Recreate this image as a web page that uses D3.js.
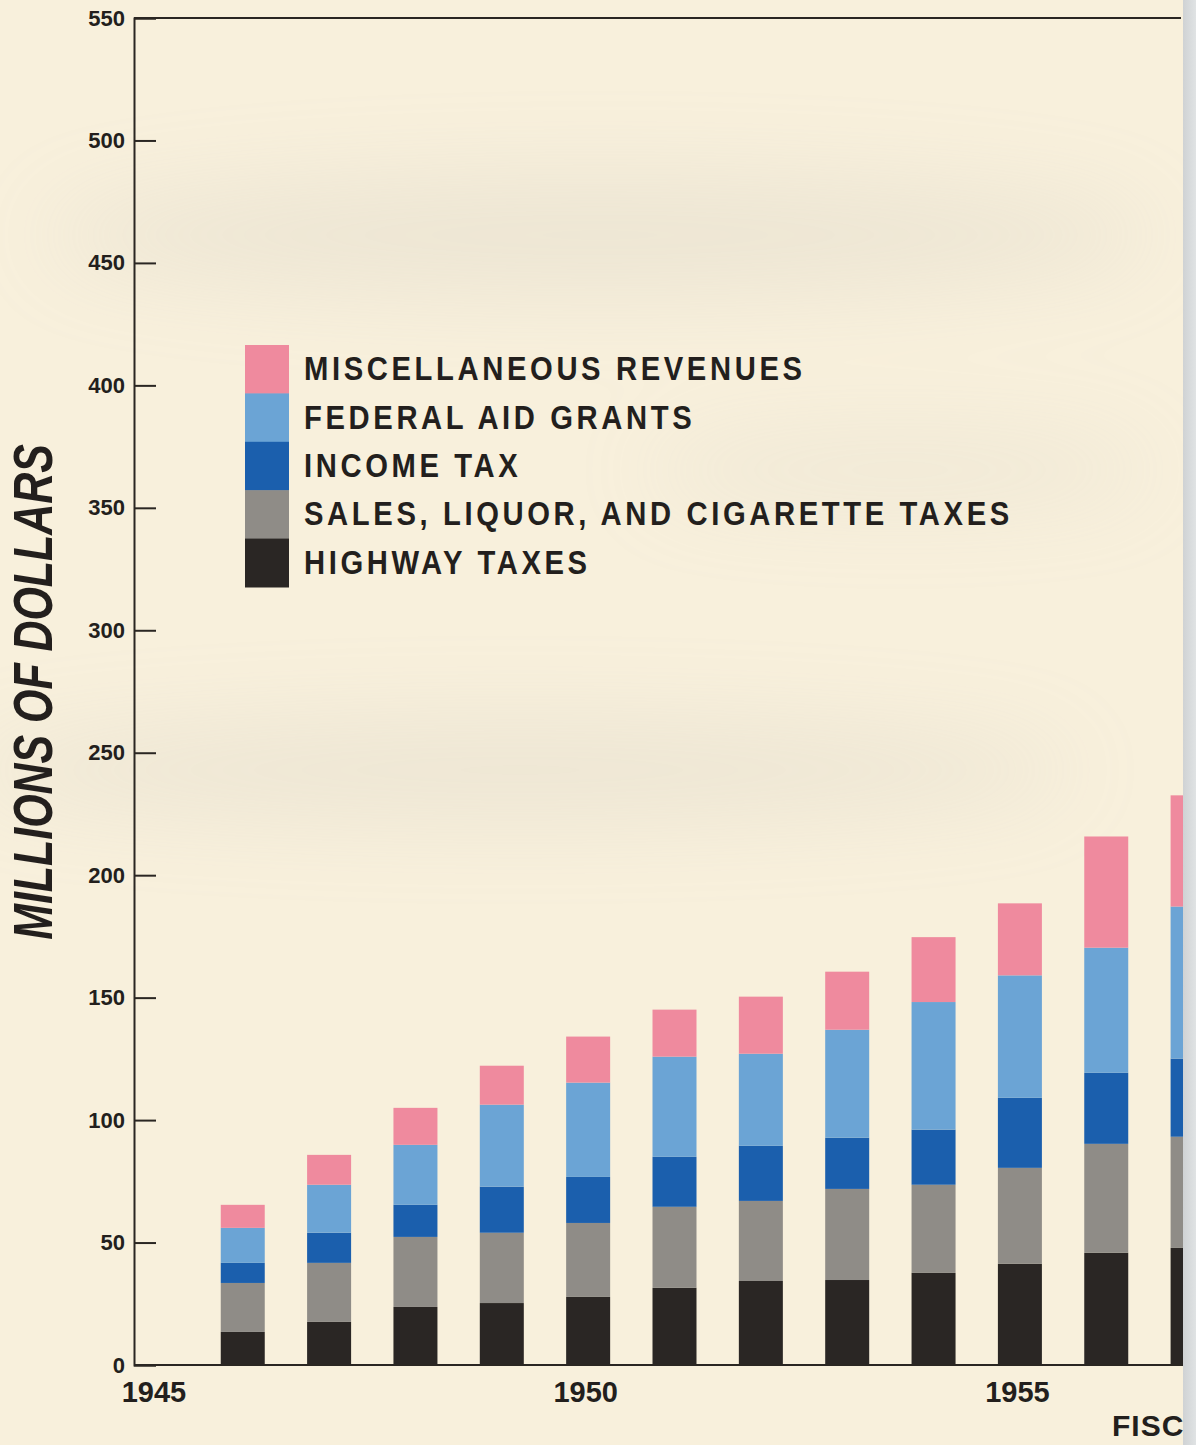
<!DOCTYPE html>
<html lang="en">
<head>
  <meta charset="UTF-8">
  <title>State Revenues by Source, Fiscal Years 1946-1957</title>
  <script src="https://d3js.org/d3.v7.min.js"></script>
  <style>
    body {
      margin: 0;
      background: #d6d9db;
    }
    svg text {
      font-family: "Liberation Sans", Arial, sans-serif;
      font-weight: bold;
      fill: #231f1d;
    }
  </style>
</head>
<body>
  <div id="chart"></div>

  <script>
    // Fiscal years and revenue by source (millions of dollars)
    const years = [1946, 1947, 1948, 1949, 1950, 1951, 1952, 1953, 1954, 1955, 1956, 1957];
    const highwayTaxes = [13.5, 17.6, 23.7, 25.3, 27.8, 31.5, 34.3, 34.7, 37.6, 41.3, 45.8, 47.8];
    const salesTaxes   = [20.0, 24.1, 28.6, 28.7, 30.2, 33.1, 32.7, 37.2, 36.0, 39.2, 44.5, 45.4];
    const incomeTax    = [8.2, 12.3, 13.1, 18.8, 18.8, 20.4, 22.5, 20.9, 22.5, 28.6, 29.0, 31.9];
    const federalAid   = [14.3, 19.6, 24.5, 33.5, 38.5, 40.9, 37.6, 44.1, 52.1, 50.0, 51.1, 62.1];
    const miscRevenues = [9.4, 12.2, 15.1, 15.9, 18.8, 19.2, 23.3, 23.7, 26.5, 29.4, 45.4, 45.4];

    const seriesKeys = ["highway", "sales", "income", "federal", "misc"];
    const seriesNames = {
      misc: "MISCELLANEOUS REVENUES",
      federal: "FEDERAL AID GRANTS",
      income: "INCOME TAX",
      sales: "SALES, LIQUOR, AND CIGARETTE TAXES",
      highway: "HIGHWAY TAXES"
    };
    const yTicks = [0, 50, 100, 150, 200, 250, 300, 350, 400, 450, 500, 550];
    const xLabels = [1945, 1950, 1955];

    const data = years.map((yr, i) => ({
      year: yr,
      highway: highwayTaxes[i],
      sales: salesTaxes[i],
      income: incomeTax[i],
      federal: federalAid[i],
      misc: miscRevenues[i]
    }));

    const W = 1196, H = 1445;
    const pageRight = 1183;   // the scanned page is cut here
    const axisX = 134;

    const svg = d3.select("#chart").append("svg")
      .attr("width", W)
      .attr("height", H);

    // paper
    const defs = svg.append("defs");
    defs.append("clipPath").attr("id", "page")
      .append("rect").attr("x", 0).attr("y", 0).attr("width", pageRight).attr("height", H);
    defs.append("filter").attr("id", "soft")
      .attr("x", "-50%").attr("y", "-200%").attr("width", "200%").attr("height", "500%")
      .append("feGaussianBlur").attr("stdDeviation", 45);

    const sideGrad = defs.append("linearGradient").attr("id", "side");
    sideGrad.append("stop").attr("offset", "0%").attr("stop-color", "#cfd2d4");
    sideGrad.append("stop").attr("offset", "100%").attr("stop-color", "#e0e3e4");
    svg.append("rect").attr("x", pageRight).attr("y", 0)
      .attr("width", W - pageRight).attr("height", H).attr("fill", "url(#side)");

    const page = svg.append("g").attr("clip-path", "url(#page)");
    page.append("rect").attr("width", pageRight).attr("height", H).attr("fill", "#f8f0dc");

    // soft folds in the paper
    const shade = page.append("g").attr("filter", "url(#soft)").attr("opacity", 0.18);
    shade.append("ellipse").attr("cx", 600).attr("cy", 235).attr("rx", 560).attr("ry", 60).attr("fill", "#b9b6ae");
    shade.append("ellipse").attr("cx", 520).attr("cy", 770).attr("rx", 560).attr("ry", 50).attr("fill", "#b9b6ae");
    shade.append("ellipse").attr("cx", 900).attr("cy", 470).attr("rx", 260).attr("ry", 35).attr("fill", "#c4c0b6");

    // scales
    const y = d3.scaleLinear().domain([0, 550]).range([1365, 18]);
    const x = d3.scaleLinear().domain([1945, 1957]).range([156.4, 1192.6]);
    const barW = 44;

    const color = d3.scaleOrdinal()
      .domain(["misc", "federal", "income", "sales", "highway"])
      .range(["#ef8a9e", "#6ba4d5", "#1b5fad", "#8f8c87", "#2a2624"]);

    // stacked bars
    const stacked = d3.stack().keys(seriesKeys)(data);
    page.append("g")
      .selectAll("g")
      .data(stacked)
      .join("g")
      .attr("fill", d => color(d.key))
      .selectAll("rect")
      .data(d => d)
      .join("rect")
      .attr("x", d => x(d.data.year) - barW / 2)
      .attr("y", d => y(d[1]))
      .attr("width", barW)
      .attr("height", d => y(d[0]) - y(d[1]));

    // frame: top rule and baseline
    const ink = "#2a2622";
    page.append("line")
      .attr("x1", axisX).attr("x2", 1181).attr("y1", y(550)).attr("y2", y(550))
      .attr("stroke", ink).attr("stroke-width", 2);
    page.append("line")
      .attr("x1", axisX).attr("x2", pageRight).attr("y1", y(0)).attr("y2", y(0))
      .attr("stroke", ink).attr("stroke-width", 2);

    // y axis
    const yAxis = page.append("g")
      .attr("transform", `translate(${axisX},0)`)
      .call(d3.axisLeft(y).tickValues(yTicks).tickSize(-22).tickPadding(9));
    yAxis.select(".domain").attr("stroke", ink).attr("stroke-width", 2);
    yAxis.selectAll(".tick line").attr("stroke", ink).attr("stroke-width", 2);
    yAxis.selectAll(".tick text")
      .style("font-size", "22px")
      .style("font-family", "'Liberation Sans', Arial, sans-serif")
      .style("font-weight", "bold")
      .attr("fill", "#231f1d");

    // x labels
    const xAxis = page.append("g")
      .attr("transform", `translate(0,${y(0)})`)
      .call(d3.axisBottom(x).tickValues(xLabels).tickFormat(d3.format("d")).tickSize(0).tickPadding(16));
    xAxis.select(".domain").remove();
    xAxis.selectAll(".tick text")
      .style("font-size", "29px")
      .style("font-family", "'Liberation Sans', Arial, sans-serif")
      .style("font-weight", "bold")
      .attr("dx", "-3")
      .attr("fill", "#231f1d");

    // y title
    page.append("text")
      .attr("transform", "translate(52,692) rotate(-90) scale(0.78,1)")
      .attr("text-anchor", "middle")
      .style("font-size", "55px")
      .style("font-style", "italic")
      .text("MILLIONS OF DOLLARS");

    // x title, cut by the page edge
    page.append("text")
      .attr("x", 1112)
      .attr("y", 1436)
      .style("font-size", "30px")
      .style("letter-spacing", "1px")
      .text("FISC");

    // legend
    const legendOrder = ["misc", "federal", "income", "sales", "highway"];
    const legend = page.append("g").attr("transform", "translate(245,345)");
    const rowH = 48.4;
    legend.selectAll("rect")
      .data(legendOrder)
      .join("rect")
      .attr("x", 0)
      .attr("y", (d, i) => i * rowH)
      .attr("width", 44)
      .attr("height", rowH + 0.5)
      .attr("fill", d => color(d));
    legend.selectAll("text")
      .data(legendOrder)
      .join("text")
      .attr("transform", (d, i) => `translate(59,${i * rowH + rowH / 2 + 11}) scale(0.86,1)`)
      .style("font-size", "34px")
      .style("letter-spacing", "4.2px")
      .text(d => seriesNames[d]);
  </script>
</body>
</html>
